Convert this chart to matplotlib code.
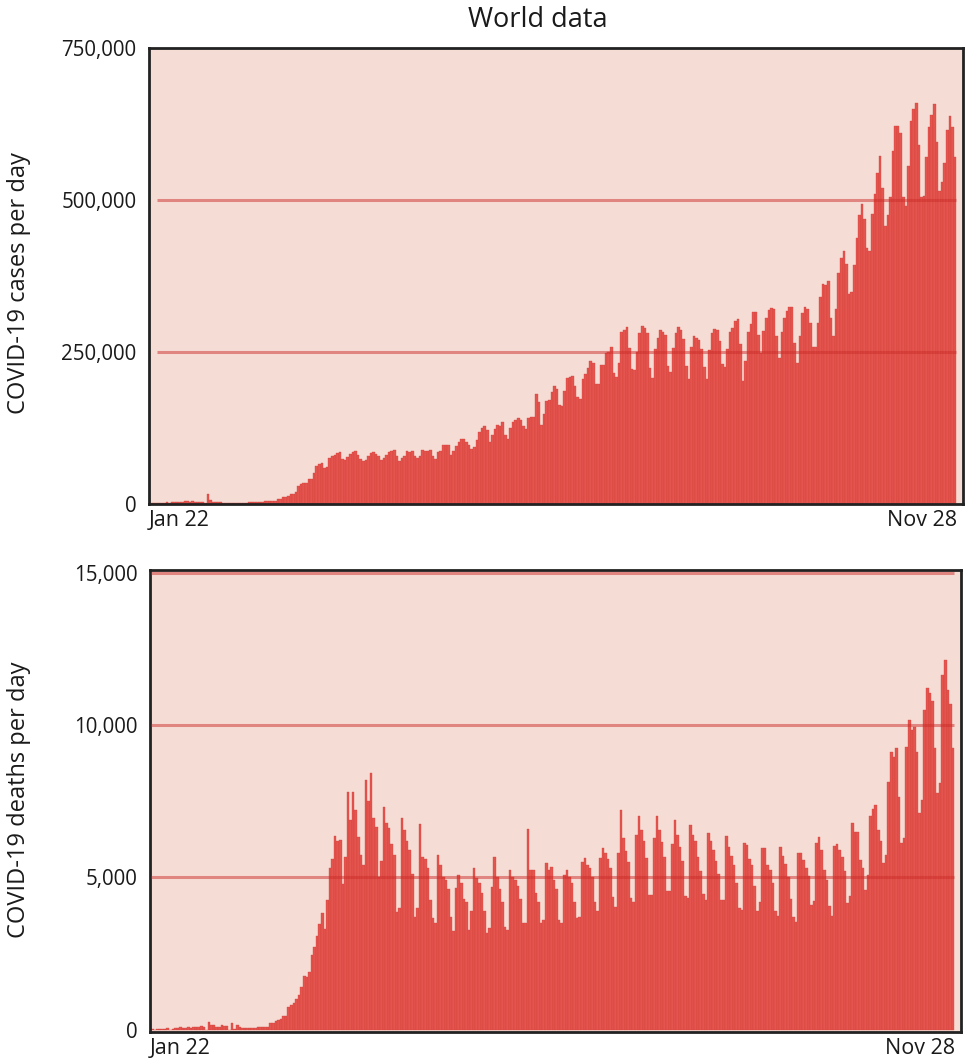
import numpy as np
import pandas as pd
import matplotlib
matplotlib.use("Agg")
from matplotlib import pyplot as plt
from matplotlib.ticker import FuncFormatter

days = pd.date_range("2020-01-22", "2020-11-28", freq="D")
tick_labels = ["Jan 22", "Nov 28"]

# world daily new cases (thousands), one row per week, rows start on a Wednesday
cases_k = [
    0.6, 0.1, 0.3, 0.5, 0.7, 0.8, 2.7,
    0.6, 2.1, 1.7, 2.1, 2.6, 3.2, 3.9,
    3.7, 3.2, 3.4, 2.7, 3.0, 2.5, 2.0,
    0.4, 15.1, 6.5, 2.1, 2.1, 2.0, 1.9,
    0.5, 0.6, 1.0, 1.5, 0.3, 0.6, 0.9,
    1.0, 1.3, 1.4, 1.7, 2.0, 1.9, 2.4,
    2.3, 2.7, 3.9, 3.8, 4.0, 3.9, 4.5,
    7.0, 7.5, 11.0, 11.0, 13.0, 15.0, 16.0,
    19, 28, 32, 33, 33, 40, 41,
    50, 62, 65, 66, 58, 60, 75,
    78, 80, 83, 84, 74, 72, 76,
    82, 84, 86, 80, 73, 70, 72,
    78, 83, 85, 82, 78, 72, 75,
    80, 84, 86, 88, 78, 70, 75,
    78, 87, 84, 87, 79, 75, 78,
    88, 86, 87, 88, 79, 74, 84,
    87, 97, 96, 96, 80, 86, 95,
    101, 106, 106, 101, 97, 89, 93,
    104, 117, 124, 127, 121, 101, 112,
    122, 130, 128, 134, 112, 106, 124,
    134, 137, 141, 138, 127, 122, 140,
    143, 142, 180, 167, 129, 148, 168,
    170, 183, 193, 189, 163, 160, 186,
    206, 209, 210, 193, 176, 172, 205,
    213, 223, 235, 232, 196, 197, 228,
    228, 247, 250, 257, 215, 208, 232,
    282, 286, 291, 256, 222, 220, 249,
    281, 292, 289, 281, 223, 206, 254,
    273, 285, 282, 277, 226, 217, 256,
    280, 291, 285, 271, 227, 205, 257,
    275, 273, 270, 255, 225, 205, 253,
    281, 288, 285, 268, 229, 225, 255,
    283, 289, 300, 304, 263, 201, 235,
    282, 296, 315, 315, 278, 247, 284,
    306, 318, 322, 320, 275, 239, 283,
    306, 317, 324, 323, 265, 232, 276,
    314, 323, 321, 298, 258, 258, 297,
    340, 361, 360, 367, 305, 276, 320,
    380, 405, 416, 395, 345, 348, 393,
    437, 475, 493, 468, 420, 416, 477,
    510, 545, 572, 520, 457, 475, 505,
    580, 622, 622, 610, 505, 490, 555,
    630, 650, 660, 590, 505, 506, 570,
    620, 640, 658, 595, 515, 530, 560,
    615, 638, 620, 570,
]

# world daily deaths, same layout
deaths = [
    17, 1, 8, 16, 14, 26, 49,
    2, 38, 42, 46, 103, 64, 66,
    72, 70, 85, 87, 100, 107, 100,
    5, 253, 152, 143, 104, 98, 139,
    115, 125, 4, 207, 11, 160, 79,
    62, 44, 58, 67, 57, 67, 72,
    84, 82, 101, 103, 229, 207, 276,
    325, 356, 442, 439, 749, 815, 880,
    1020, 1150, 1405, 1750, 1720, 1900, 2450,
    2700, 3060, 3480, 3820, 3290, 4260, 5300,
    5600, 6350, 6200, 6230, 4790, 5680, 7800,
    6870, 7800, 7220, 6320, 5720, 5410, 8190,
    7500, 8430, 6930, 6660, 5020, 5520, 7300,
    6780, 6620, 6080, 5730, 3870, 4000, 6930,
    6550, 6190, 5900, 5100, 3710, 4000, 6740,
    5680, 5600, 5300, 4260, 3660, 3500, 5720,
    5400, 5000, 4900, 4600, 3700, 3250, 4650,
    5080, 4800, 4300, 4200, 3280, 3880, 5300,
    4970, 4800, 4500, 3900, 3170, 3330, 4690,
    5660, 5000, 4600, 4200, 3380, 3280, 5240,
    5000, 4900, 4700, 4300, 3490, 3490, 6580,
    5250, 5250, 4500, 4200, 3490, 3600, 5470,
    5250, 5350, 4900, 4600, 3600, 3500, 5080,
    5240, 5000, 4800, 4200, 3660, 3700, 5510,
    5620, 5400, 5300, 5000, 4200, 3880, 5620,
    5950, 5800, 5600, 5300, 4350, 4040, 5790,
    7200, 6280, 5850, 5500, 4320, 4200, 6400,
    7010, 6550, 6200, 5620, 4420, 4420, 6300,
    7010, 6550, 6150, 5650, 4550, 4550, 6100,
    6880, 6400, 6000, 5550, 4400, 4310, 6710,
    6400, 6200, 5650, 5200, 4450, 4270, 6440,
    6200, 5900, 5550, 5100, 4270, 4270, 6360,
    6000, 5700, 5400, 4800, 4000, 3920, 6140,
    6050, 5600, 5400, 4700, 3900, 4200, 5950,
    5950, 5400, 5250, 4800, 3900, 3720, 6000,
    5700, 5450, 5000, 4300, 3700, 3520, 5790,
    5800, 5570, 5300, 5030, 4090, 4230, 6120,
    6330, 5900, 5240, 4900, 4060, 3730, 6030,
    6100, 5900, 5680, 5200, 4160, 4400, 6780,
    6500, 6500, 5570, 5300, 4590, 5080, 7000,
    7250, 7370, 6550, 6200, 5460, 5730, 8130,
    9120, 8960, 9230, 7640, 6120, 6300, 9280,
    10150, 9830, 9940, 9120, 7100, 7530, 10480,
    11200, 11040, 10800, 9230, 7750, 8080, 11630,
    12120, 11150, 10700, 9230,
]

cases = np.array(cases_k) * 1000
deaths = np.array(deaths)
x = np.arange(len(days))

plt.rcParams['font.family'] = ['Open Sans', 'DejaVu Sans']

W, H = 967, 1062
fig = plt.figure(figsize=(W / 100, H / 100), dpi=100)
ax1 = fig.add_axes([149 / W, 1 - 503.5 / H, (963 - 149) / W, (503.5 - 48) / H])
ax2 = fig.add_axes([150 / W, 1 - 1031.5 / H, (961 - 150) / W, (1031.5 - 569.5) / H])

bg = '#F5DDD5'
bar_col = '#E5554F'
edge_col = '#D03C37'
grid_col = '#CC2E2A'
txt = '#1a1a1a'


def panel(ax, vals, ylim, grid, grid_start):
    ax.set_facecolor(bg)
    ax.bar(x, vals, width=1.0, color=bar_col, edgecolor=edge_col, linewidth=0.25, zorder=2)
    ax.hlines(grid, grid_start, len(x) - 0.5, color=grid_col, alpha=0.5, linewidth=2.2, zorder=3)
    ax.set_xlim(-0.9, len(x) + 2.1)
    ax.set_ylim(*ylim)
    ax.set_yticks([0] + list(grid) + ([750000] if ylim[1] >= 750000 else []))
    ax.yaxis.set_major_formatter(FuncFormatter(lambda v, p: f"{int(v):,}"))
    ax.set_xticks([-0.85, len(x)])
    ax.set_xticklabels(tick_labels)
    ax.get_xticklabels()[0].set_horizontalalignment('left')
    ax.get_xticklabels()[1].set_horizontalalignment('right')
    ax.tick_params(length=0, colors=txt)
    ax.tick_params(axis='x', labelsize=15.5, pad=5)
    ax.tick_params(axis='y', labelsize=14.8, pad=9)
    for s in ax.spines.values():
        s.set_linewidth(2)
        s.set_color('#222222')


panel(ax1, cases, (0, 750000), [250000, 500000], 2.2)
panel(ax2, deaths, (-60, 15100), [5000, 10000, 15000], -0.5)

fig.text(19 / W, 1 - 283 / H, 'COVID-19 cases per day', rotation=90,
         ha='center', va='center', fontsize=17, color=txt)
fig.text(19 / W, 1 - 800 / H, 'COVID-19 deaths per day', rotation=90,
         ha='center', va='center', fontsize=17, color=txt)
fig.text(538 / W, 1 - 20 / H, 'World data', ha='center', va='center', fontsize=19.5, color=txt)

fig.savefig('out.png', dpi=100, facecolor='white')
